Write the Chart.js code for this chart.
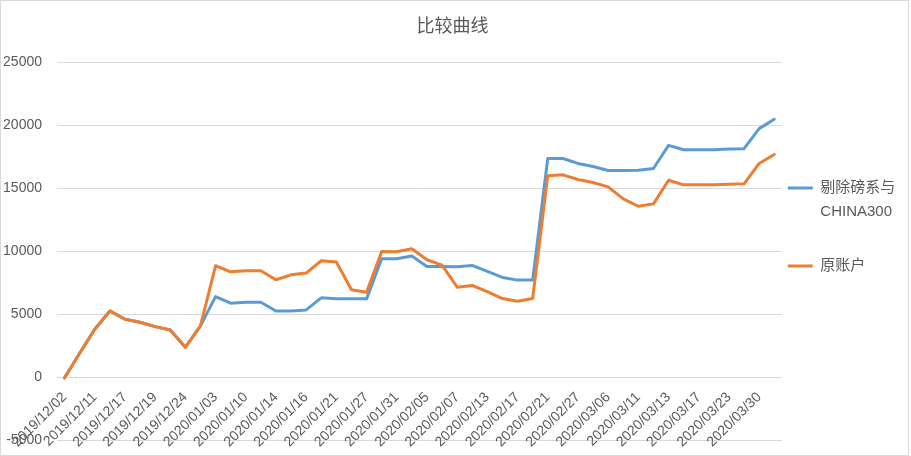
<!DOCTYPE html>
<html>
<head>
<meta charset="utf-8">
<script src="https://cdn.jsdelivr.net/npm/chart.js@4/dist/chart.umd.min.js"></script>
<style>
  body { margin: 0; background: #ffffff; }
  #wrap {
    position: absolute; left: 0; top: 0;
    width: 909px; height: 456px;
    box-sizing: border-box;
    border: 1px solid #d9d9d9;
  }
</style>
</head>
<body>
<div id="wrap"><canvas id="compareChart"></canvas></div>
<script>
// Dates shown on the axis; Excel only labels every second point.
const tickDates = [
  '2019/12/02','2019/12/11','2019/12/17','2019/12/19','2019/12/24','2020/01/03',
  '2020/01/10','2020/01/14','2020/01/16','2020/01/21','2020/01/27','2020/01/31',
  '2020/02/05','2020/02/07','2020/02/13','2020/02/17','2020/02/21','2020/02/27',
  '2020/03/06','2020/03/11','2020/03/13','2020/03/17','2020/03/23','2020/03/30'
];

// the unlabelled point in between gets an empty category
const categories = tickDates.flatMap(d => [d, '']);

const seriesNames = ['剔除磅系与CHINA300', '原账户'];

// 剔除磅系与CHINA300
const adjusted = [
  -60,1890,3800,5260,4600,4360,4010,3750,2370,4070,
  6400,5875,5955,5955,5260,5260,5340,6300,6220,6220,
  6220,9410,9410,9620,8800,8800,8770,8880,8400,7920,
  7710,7710,17380,17380,16985,16745,16425,16425,16450,16585,
  18420,18075,18075,18075,18125,18155,19750,20490
];

// 原账户
const original = [
  -60,1890,3800,5260,4600,4360,4010,3750,2370,4070,
  8850,8370,8450,8450,7735,8130,8270,9250,9145,6940,
  6750,9990,9960,10200,9330,8900,7150,7280,6800,6245,
  6035,6245,16000,16080,15710,15470,15125,14170,13580,13770,
  15650,15285,15285,15285,15335,15365,16985,17700
];

const yTicks = { min: -5000, max: 25000, step: 5000 };

// legend text wrapped like the Excel legend (extra blank line = gap below)
const legendLines = [['剔除磅系与', 'CHINA300', ''], ['原账户']];

Chart.defaults.font.family = '"Liberation Sans", "Noto Sans CJK SC", sans-serif';
Chart.defaults.color = '#595959';

// labels may spill over the plot edge like in Excel, so don't reserve room for them
function noEdgePadding(scale) {
  scale.paddingLeft = 0;
  scale.paddingRight = 0;
  scale.paddingTop = 0;
  scale.paddingBottom = 0;
}

const ctx = document.getElementById('compareChart').getContext('2d');

new Chart(ctx, {
  type: 'line',
  data: {
    labels: categories,
    datasets: [
      {
        label: seriesNames[0],
        data: adjusted,
        borderColor: '#5b9bd5',
        backgroundColor: '#5b9bd5',
        borderWidth: 3,
        pointRadius: 0,
        tension: 0,
        borderJoinStyle: 'round',
        borderCapStyle: 'round',
        order: 1
      },
      {
        label: seriesNames[1],
        data: original,
        borderColor: '#ed7d31',
        backgroundColor: '#ed7d31',
        borderWidth: 3,
        pointRadius: 0,
        tension: 0,
        borderJoinStyle: 'round',
        borderCapStyle: 'round',
        order: 0            // orange sits on top, as in Excel
      }
    ]
  },
  options: {
    responsive: true,
    maintainAspectRatio: false,
    animation: false,
    layout: { padding: { left: 2, right: 6, top: 0, bottom: 15 } },
    plugins: {
      title: {
        display: true,
        text: '比较曲线',
        color: '#595959',
        font: { size: 18, weight: 'normal' },
        padding: { top: 15, bottom: 25 }
      },
      legend: {
        position: 'right',
        title: {                // empty title just nudges the items down
          display: true,
          text: ' ',
          font: { size: 10, lineHeight: 1 },
          padding: { top: 6, bottom: 6 }
        },
        labels: {
          color: '#595959',
          font: { size: 15, lineHeight: 1.6 },
          usePointStyle: true,
          pointStyle: 'line',
          pointStyleWidth: 25,
          padding: 6,
          sort: (a, b) => a.datasetIndex - b.datasetIndex,
          generateLabels: function(chart) {
            const items = Chart.defaults.plugins.legend.labels.generateLabels(chart);
            items.forEach(it => { it.text = legendLines[it.datasetIndex]; });
            return items;
          }
        }
      },
      tooltip: { enabled: false }
    },
    scales: {
      x: {
        position: { y: 0 },     // category labels hang off the zero line
        offset: true,
        grid: { display: false },
        border: { display: false },
        afterFit: noEdgePadding,
        ticks: {
          autoSkip: false,
          maxRotation: 45,
          minRotation: 45,
          padding: 4,
          color: '#595959',
          font: { size: 14 }
        }
      },
      y: {
        min: yTicks.min,
        max: yTicks.max,
        grid: { color: '#d9d9d9', drawTicks: false },
        border: { display: false },
        afterFit: function(scale) {
          noEdgePadding(scale);
          scale.width = 54;     // label column (~39px) + 15px gap to the gridlines
        },
        ticks: {
          stepSize: yTicks.step,
          padding: 15,
          color: '#595959',
          font: { size: 14 },
          callback: v => String(v)
        }
      }
    }
  }
});
</script>
</body>
</html>
